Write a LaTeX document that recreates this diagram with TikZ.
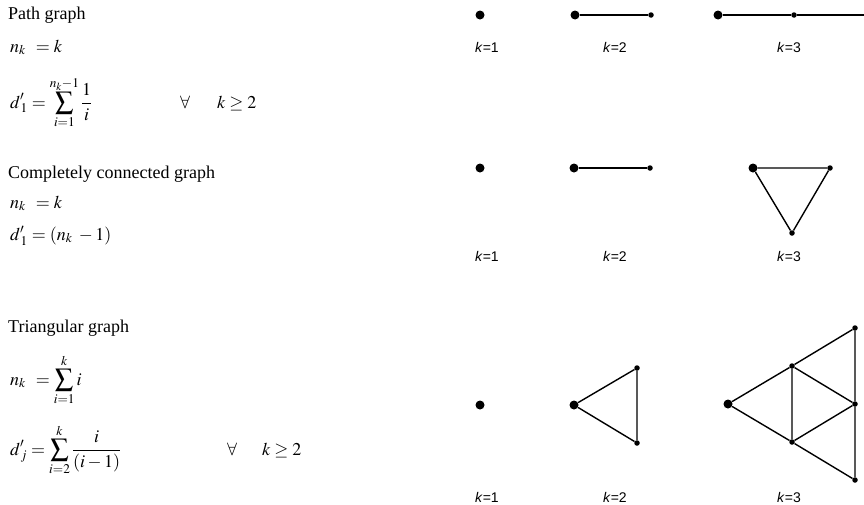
\documentclass[tikz,border=0pt]{standalone}
\usepackage{mathptmx}
\usepackage[no-math]{fontspec}
\setmainfont{Liberation Serif}
\newfontfamily\labfont{Liberation Sans}
\begin{document}
\begin{tikzpicture}[x=1pt,y=-1pt,
  txt/.style={anchor=base west,inner sep=0pt,font=\fontsize{18}{20}\selectfont},
  klab/.style={inner sep=0pt,font=\labfont\fontsize{14}{16}\selectfont},
  bigdot/.style={circle,fill=black,inner sep=0pt,minimum size=9pt},
  smalldot/.style={circle,fill=black,inner sep=0pt,minimum size=5.5pt},
  edge/.style={line width=1.4pt}]
\useasboundingbox (0,0) rectangle (864,504);
% ---------- left texts ----------
\node[txt] (t1) at (8,19) {Path graph};
\node[txt] (a1) at (10,52) {$n_{k}\;\,= k$};
\node[txt] (a2) at (10,108) {$\displaystyle d'_{\,1} = \sum_{i=1}^{n_k-1}\frac{1}{i}$};
\node[txt] (a3) at (180,108) {$\forall\hspace{27pt} k \ge 2$};
\node[txt] (t2) at (8,178) {Completely connected graph};
\node[txt] (b1) at (10,208) {$n_{k}\;\,= k$};
\node[txt] (b2) at (10,240) {$d'_{\,1} = (n_{k}\;-1)$};
\node[txt] (t3) at (8,332) {Triangular graph};
\node[txt] (c1) at (10,385) {$\displaystyle n_{k}\;\,= \sum_{i=1}^{k} i$};
\node[txt] (c2) at (10,455) {$\displaystyle d'_{\,j} = \sum_{i=2}^{k}\frac{i}{(i-1)}$};
\node[txt] (c3) at (227,455) {$\forall\hspace{25pt} k \ge 2$};
% ---------- path graph ----------
\node[bigdot] (p11) at (480,15) {};
\node[bigdot] (p21) at (575,15) {};
\node[smalldot] (p22) at (651,15) {};
\node[bigdot] (p31) at (718,15) {};
\node[smalldot] (p32) at (794,15) {};
\coordinate (p33) at (868,15);
\draw[edge] (p21) -- (p22);
\draw[edge] (p31) -- (p32) -- (p33);
\node[klab] (lp1) at (487,47) {\textit{k}=1};
\node[klab] (lp2) at (615,47) {\textit{k}=2};
\node[klab] (lp3) at (789,47) {\textit{k}=3};
% ---------- completely connected ----------
\node[bigdot] (q11) at (480,168) {};
\node[bigdot] (q21) at (574,168) {};
\node[smalldot] (q22) at (650,168) {};
\node[bigdot] (q31) at (753,168) {};
\node[smalldot] (q32) at (830,168) {};
\node[smalldot] (q33) at (792,233) {};
\draw[edge] (q21) -- (q22);
\draw[edge] (q31) -- (q32) -- (q33) -- (q31);
\node[klab] (lq1) at (487,256) {\textit{k}=1};
\node[klab] (lq2) at (615,256) {\textit{k}=2};
\node[klab] (lq3) at (789,256) {\textit{k}=3};
% ---------- triangular ----------
\node[bigdot] (r11) at (480,405) {};
\node[bigdot] (r21) at (574,405) {};
\node[smalldot] (r22) at (637,368) {};
\node[smalldot] (r23) at (637,443) {};
\draw[edge] (r21) -- (r22) -- (r23) -- (r21);
\node[bigdot] (r31) at (728,404) {};
\node[smalldot] (r32) at (792,366) {};
\node[smalldot] (r33) at (792,442) {};
\node[smalldot] (r34) at (855,328) {};
\node[smalldot] (r35) at (855,404) {};
\node[smalldot] (r36) at (855,480) {};
\draw[edge] (r31) -- (r32) -- (r33) -- (r31);
\draw[edge] (r32) -- (r34) -- (r35) -- (r32);
\draw[edge] (r33) -- (r35) -- (r36) -- (r33);
\node[klab] (lr1) at (487,497) {\textit{k}=1};
\node[klab] (lr2) at (615,497) {\textit{k}=2};
\node[klab] (lr3) at (789,497) {\textit{k}=3};
\end{tikzpicture}
\end{document}
